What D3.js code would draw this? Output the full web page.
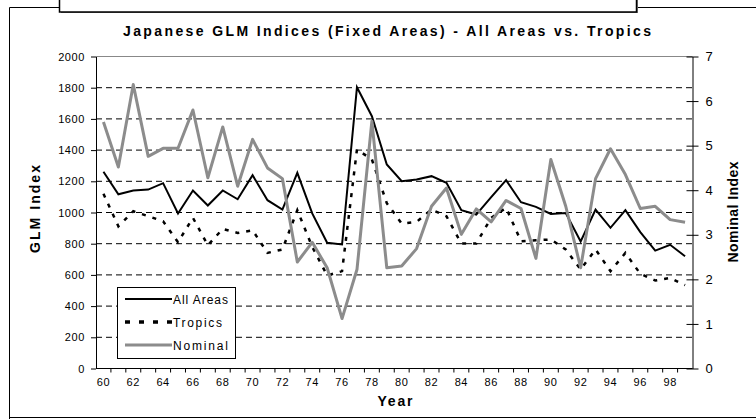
<!DOCTYPE html>
<html><head><meta charset="utf-8">
<script src="https://cdn.jsdelivr.net/npm/d3@7/dist/d3.min.js"></script>
<style>
html,body{margin:0;padding:0;background:#fff;}
svg text{font-family:"Liberation Sans",Arial,sans-serif;}
</style></head>
<body><svg id="c" width="756" height="419"></svg>
<script>
const years = ["60","61","62","63","64","65","66","67","68","69","70","71","72","73","74","75","76","77","78","79","80","81","82","83","84","85","86","87","88","89","90","91","92","93","94","95","96","97","98","99"];
const allAreas = [1261,1117,1141,1147,1188,994,1141,1045,1141,1085,1239,1079,1019,1254,994,806,795,1803,1617,1308,1201,1212,1233,1190,1015,987,1098,1207,1066,1036,991,996,814,1019,902,1015,874,756,793,720];
const tropics = [1120,912,1008,976,944,810,966,790,895,869,886,741,763,1015,780,596,624,1404,1340,1060,929,940,1019,976,801,801,966,1030,816,822,827,763,635,763,624,741,607,564,581,534];
const nominal = [5.53,4.52,6.37,4.76,4.94,4.94,5.80,4.28,5.42,4.09,5.14,4.50,4.26,2.39,2.83,2.26,1.12,2.22,5.55,2.26,2.30,2.69,3.64,4.05,3.01,3.58,3.29,3.77,3.59,2.47,4.69,3.64,2.26,4.26,4.93,4.35,3.59,3.64,3.34,3.28];
const leftTicks = [0,200,400,600,800,1000,1200,1400,1600,1800,2000];
const rightTicks = [0,1,2,3,4,5,6,7];
const xLabels = ["60","62","64","66","68","70","72","74","76","78","80","82","84","86","88","90","92","94","96","98"];
const seriesNames = ["All Areas","Tropics","Nominal"];
const title = "Japanese GLM Indices (Fixed Areas) - All Areas vs. Tropics";

const svg = d3.select("#c");
const L = 96, R = 692.5, T = 56.5, B = 368.5;
const x = d3.scaleBand().domain(years).range([L, R]).padding(0);
const xc = d => x(d) + x.bandwidth()/2;
const yL = d3.scaleLinear().domain([0,2000]).range([B, T]);
const yR = d3.scaleLinear().domain([0,7]).range([B, T]);

// outer frame
svg.append("path").attr("d","M9.5,419 V7.5 H60 M637,7.5 H756 M9.5,417.5 H756")
  .attr("fill","none").attr("stroke","#000").attr("stroke-width",1);
// cropped title box above
svg.append("rect").attr("x",61).attr("y",-10).attr("width",577).attr("height",23)
  .attr("fill","#777").attr("stroke","none");
svg.append("rect").attr("x",59.5).attr("y",-12).attr("width",577).attr("height",24)
  .attr("fill","#fff").attr("stroke","#000").attr("stroke-width",1.5);

// title
svg.append("text").attr("x",387).attr("y",36).attr("text-anchor","middle")
  .attr("font-size",14).attr("font-weight","bold").attr("textLength",528).attr("lengthAdjust","spacing").text(title);

// gridlines
svg.append("g").selectAll("line").data(leftTicks.filter(v=>v>0 && v<2000)).join("line")
  .attr("x1",L).attr("x2",R).attr("y1",d=>yL(d)).attr("y2",d=>yL(d))
  .attr("stroke","#000").attr("stroke-width",1).attr("stroke-dasharray","6,4");
// top border of plot
svg.append("line").attr("x1",L).attr("x2",R).attr("y1",yL(2000)).attr("y2",yL(2000))
  .attr("stroke","#888").attr("stroke-width",1);

// left axis
const gl = svg.append("g").attr("transform",`translate(${L},0)`)
  .call(d3.axisLeft(yL).tickValues(leftTicks).tickFormat(d3.format("d")).tickSize(5).tickPadding(6).tickSizeOuter(0));
gl.select(".domain").attr("stroke","#000");
gl.selectAll("text").attr("font-size",11).attr("letter-spacing",0.6).attr("font-family","Liberation Sans, Arial");
// right axis
const gr = svg.append("g").attr("transform",`translate(${R},0)`)
  .call(d3.axisRight(yR).tickValues(rightTicks).tickFormat(d3.format("d")).tickSize(6).tickPadding(7).tickSizeOuter(0));
gr.selectAll(".tick line").attr("x1",-6);
gr.selectAll("text").attr("font-size",13).attr("font-family","Liberation Sans, Arial");
// bottom axis
const gb = svg.append("g").attr("transform",`translate(0,${B})`)
  .call(d3.axisBottom(x).tickValues(xLabels).tickSize(0).tickPadding(10).tickSizeOuter(0));
gb.select(".domain").attr("d",`M${L},0H${R}`).attr("stroke","#000");
gb.selectAll("text").attr("font-size",11).attr("letter-spacing",0.6).attr("font-family","Liberation Sans, Arial");
svg.append("g").selectAll("line").data(years.slice(1)).join("line")
  .attr("x1",d=>x(d)).attr("x2",d=>x(d)).attr("y1",B).attr("y2",B+4)
  .attr("stroke","#000");

// axis titles
svg.append("text").attr("x",395).attr("y",406).attr("text-anchor","middle")
  .attr("font-size",14).attr("font-weight","bold").attr("textLength",35).attr("lengthAdjust","spacing").text("Year");
svg.append("text").attr("transform","translate(40,209) rotate(-90)").attr("text-anchor","middle")
  .attr("font-size",14).attr("font-weight","bold").attr("textLength",88).attr("lengthAdjust","spacing").text("GLM Index");
svg.append("text").attr("transform","translate(738,212) rotate(-90)").attr("text-anchor","middle")
  .attr("font-size",14).attr("font-weight","bold").attr("textLength",101).attr("lengthAdjust","spacing").text("Nominal Index");

// series
const lineL = d3.line().x((d,i)=>xc(years[i])).y(d=>yL(d));
const lineR = d3.line().x((d,i)=>xc(years[i])).y(d=>yR(d));
const styles = [
  {stroke:"#000", w:2, dash:null},
  {stroke:"#000", w:2.5, dash:"4,7"},
  {stroke:"#8c8c8c", w:3, dash:null}
];
svg.append("path").datum(allAreas).attr("d",lineL).attr("fill","none")
  .attr("stroke",styles[0].stroke).attr("stroke-width",styles[0].w);
svg.append("path").datum(tropics).attr("d",lineL).attr("fill","none")
  .attr("stroke",styles[1].stroke).attr("stroke-width",styles[1].w).attr("stroke-dasharray",styles[1].dash);
svg.append("path").datum(nominal).attr("d",lineR).attr("fill","none")
  .attr("stroke",styles[2].stroke).attr("stroke-width",styles[2].w).attr("stroke-linejoin","round");

// legend
const lg = svg.append("g");
lg.append("rect").attr("x",117.5).attr("y",287.5).attr("width",118).attr("height",71)
  .attr("fill","#fff").attr("stroke","#000");
const rowsY = [299,322,345];
seriesNames.forEach((n,i)=>{
  const s = styles[i];
  const ln = lg.append("line").attr("x1",125).attr("x2",172).attr("y1",rowsY[i]).attr("y2",rowsY[i])
    .attr("stroke",s.stroke).attr("stroke-width",s.w);
  if (s.dash) ln.attr("stroke-dasharray","5,9").attr("stroke-width",3.5);
  lg.append("text").attr("x",173).attr("y",rowsY[i]+4.5).attr("font-size",12)
    .attr("textLength",[55,49,55][i]).attr("lengthAdjust","spacing").text(n);
});
</script></body></html>
